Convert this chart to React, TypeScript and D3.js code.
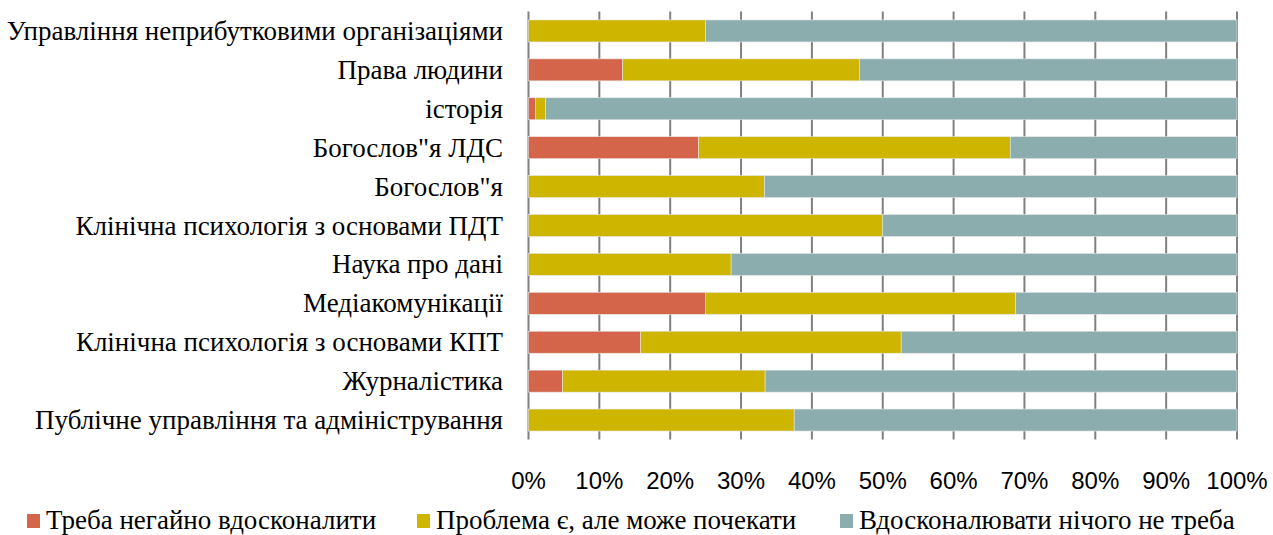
import React from "react";
import * as d3 from "d3";

const categories = [
  "Управління неприбутковими організаціями",
  "Права людини",
  "історія",
  "Богослов\"я ЛДС",
  "Богослов\"я",
  "Клінічна психологія з основами ПДТ",
  "Наука про дані",
  "Медіакомунікації",
  "Клінічна психологія з основами КПТ",
  "Журналістика",
  "Публічне управління та адміністрування",
];

const seriesNames = [
  "Треба негайно вдосконалити",
  "Проблема є, але може почекати",
  "Вдосконалювати нічого не треба",
];

const urgent = [0, 13.3, 1, 24, 0, 0, 0, 25, 15.8, 4.8, 0];
const canWait = [25, 33.4, 1.4, 44, 33.3, 50, 28.6, 43.75, 36.8, 28.6, 37.5];
const nothing = [75, 53.3, 97.6, 32, 66.7, 50, 71.4, 31.25, 47.4, 66.6, 62.5];

const tickValues = [0, 10, 20, 30, 40, 50, 60, 70, 80, 90, 100];
const colors = ["#D4644A", "#CDB500", "#8CADAE"];

const W = 1273;
const H = 535;
const plot = { left: 528.5, right: 1237, top: 11.5, bottom: 439.5 };

export default function App() {
  const rows = categories.map((c, i) => ({
    cat: c,
    s0: urgent[i],
    s1: canWait[i],
    s2: nothing[i],
  }));
  const stack = d3.stack<any>().keys(["s0", "s1", "s2"]);
  const stacked = stack(rows);

  const x = d3.scaleLinear().domain([0, 100]).range([plot.left, plot.right]);
  const y = d3
    .scaleBand<string>()
    .domain(categories)
    .range([plot.top, plot.bottom])
    .paddingInner(0.435)
    .paddingOuter(0.2175);

  const serif = "Liberation Serif, Tinos, Times New Roman, DejaVu Serif, serif";
  const sans = "Liberation Sans, Arial, sans-serif";

  const legendX = [27, 417, 840];

  return (
    <svg
      width={W}
      height={H}
      style={{ position: "absolute", left: 0, top: 0, background: "#fff" }}
    >
      {tickValues.map((t) => (
        <line
          key={"g" + t}
          x1={x(t)}
          x2={x(t)}
          y1={plot.top}
          y2={plot.bottom}
          stroke="#808080"
          strokeWidth={2}
        />
      ))}
      {stacked.map((layer, li) => (
        <g key={li} fill={colors[li]}>
          {layer.map((d, i) => {
            const w = x(d[1]) - x(d[0]);
            if (w <= 0) return null;
            return (
              <rect
                key={i}
                x={x(d[0])}
                y={y(categories[i])}
                width={w}
                height={y.bandwidth()}
                stroke="#e6e6e6"
                strokeWidth={0.6}
              />
            );
          })}
        </g>
      ))}
      {categories.map((c) => (
        <text
          key={c}
          x={503}
          y={(y(c) as number) + y.bandwidth() / 2 + 9}
          textAnchor="end"
          style={{ fontFamily: serif, fontSize: 27 }}
          fill="#000"
        >
          {c}
        </text>
      ))}
      {tickValues.map((t) => (
        <text
          key={"t" + t}
          x={x(t)}
          y={489}
          textAnchor="middle"
          style={{ fontFamily: sans, fontSize: 24 }}
          fill="#000"
        >
          {t + "%"}
        </text>
      ))}
      {seriesNames.map((s, i) => (
        <g key={s}>
          <rect x={legendX[i]} y={514} width={13} height={14} fill={colors[i]} />
          <text
            x={legendX[i] + 19}
            y={529}
            style={{ fontFamily: serif, fontSize: 27 }}
            fill="#000"
          >
            {s}
          </text>
        </g>
      ))}
    </svg>
  );
}
